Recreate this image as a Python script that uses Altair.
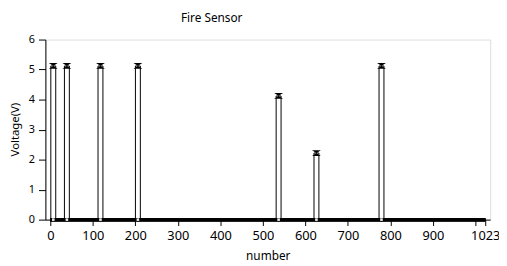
import altair as alt
import pandas as pd

chart_title = "Fire Sensor"
x_title = "number"
y_title = "Voltage(V)"

spike_x = [7, 39, 118, 206, 537, 626, 779]
spike_v = [5.12, 5.12, 5.12, 5.12, 4.12, 2.22, 5.12]

x_ticks = [0, 100, 200, 300, 400, 500, 600, 700, 800, 900, 1000, 1023]
y_ticks = [0, 1, 2, 3, 4, 5, 6]
x_domain = [0, 1023]
y_domain = [0, 6]

df = pd.DataFrame({"x": spike_x, "v": spike_v, "zero": [0] * len(spike_x)})
tdf = pd.DataFrame({"t": [chart_title]})

FONT = "Noto Sans"

xs = alt.Scale(domain=x_domain, nice=False, zero=False)
ys = alt.Scale(domain=y_domain, nice=False)

xax = alt.Axis(values=x_ticks, format="d",
               labelExpr="datum.value == 1000 ? '' : datum.label",
               grid=False, tickSize=6, labelPadding=4, labelFontSize=13,
               labelFont=FONT, labelColor="#000", tickColor="#000",
               domainColor="#000", title=x_title, titleFont=FONT,
               titleFontSize=12, titleFontWeight="normal", titleColor="#000",
               titleBaseline="alphabetic", titleY=41, labelFlush=False,
               labelOverlap=False)
yax = alt.Axis(values=y_ticks, tickCount=7, grid=False, tickSize=7,
               labelPadding=4, labelFontSize=11, labelFont=FONT,
               labelColor="#000", tickColor="#000", domainColor="#000",
               title=y_title, titleFont=FONT, titleFontSize=11.5,
               titleFontWeight="normal", titleColor="#000", titleX=-30,
               titleY=91, titleAngle=-90, titleAlign="center",
               titleBaseline="middle", labelOverlap=False, labelFlush=False)

base = alt.Chart(df)

X = alt.X("x:Q", scale=xs, axis=xax)

bars = base.mark_bar(width=5, fill="white", stroke="black", strokeWidth=1).encode(
    x=X,
    y=alt.Y("v:Q", scale=ys, axis=yax),
    y2=alt.Y2("zero:Q"),
)

baseline = base.mark_rule(color="black", strokeWidth=3.5).encode(
    x=alt.X(datum=x_domain[0], scale=xs, axis=xax),
    x2=alt.datum(x_domain[1]),
    y=alt.Y(datum=0, scale=ys, axis=yax),
)

tops = base.mark_point(
    shape="M-1,-0.65L1,-0.65L-1,0.65L1,0.65Z", filled=True, color="black",
    size=81, opacity=1
).encode(x=X, y=alt.Y("v:Q", scale=ys, axis=yax))

bottoms = base.mark_point(shape="square", filled=True, color="#e8e8e8",
                          size=7, opacity=1).encode(
    x=X, y=alt.Y("zero:Q", scale=ys, axis=yax))

title = alt.Chart(tdf).mark_text(font=FONT, fontSize=12, color="#000",
                                 baseline="alphabetic", align="center").encode(
    x=alt.value(169), y=alt.value(-18), text="t:N"
)

chart = alt.layer(bars, baseline, tops, bottoms, title).properties(
    width=452, height=183,
    autosize=alt.AutoSizeParams(type="none"),
    padding={"left": 38, "top": 30, "right": 9, "bottom": 42},
).configure_view(stroke="black", strokeWidth=1).configure(background="white")

chart.save("out.html", embed_options={"renderer": "svg", "actions": False})
